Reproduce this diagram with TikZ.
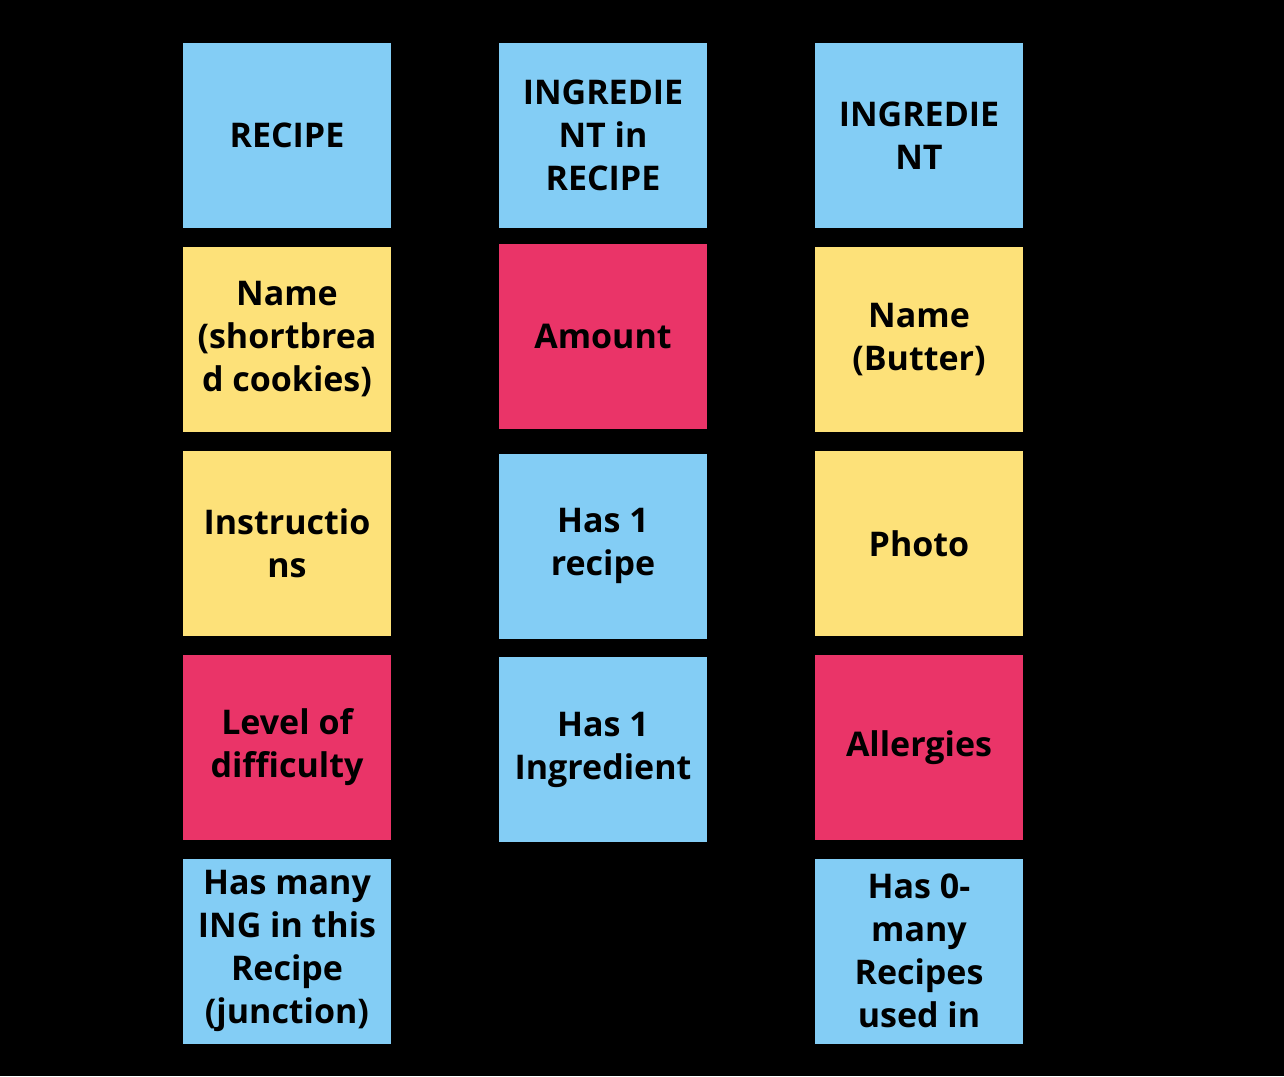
\documentclass[tikz,border=0pt]{standalone}
\usepackage{fontspec}
\setmainfont{Open Sans}
\usepackage{xcolor}
\usetikzlibrary{positioning}
\definecolor{noteblue}{HTML}{83CDF5}
\definecolor{noteyellow}{HTML}{FDE179}
\definecolor{notered}{HTML}{EA3468}
\tikzset{
    note/.style={
        rectangle,
        minimum width=208pt,
        minimum height=185pt,
        inner sep=0pt,
        align=center,
        font=\fontsize{34}{43}\selectfont\bfseries,
        text=black,
    },
    entity/.style={note, fill=noteblue},
    attr/.style={note, fill=noteyellow},
    keyattr/.style={note, fill=notered},
}

\begin{document}
\begin{tikzpicture}[x=1pt,y=1pt,node distance=18.5pt]
          \fill[black] (0,0) rectangle (1284,1076);
          % recipe column
          \node [entity] (recipe) at (287,940.5) {RECIPE};
          \node [attr] (rname) [below=of recipe] {Name\\(shortbrea\\d cookies)};
          \node [attr] (instr) [below=of rname] {Instructio\\ns};
          \node [keyattr] (level) [below=of instr] {Level of\\difficulty};
          \node [entity] (manying) [below=of level] {Has many\\ING in this\\Recipe\\(junction)};

          % junction column
          \node [entity] (inrecipe) at (603,940.5) {INGREDIE\\NT in\\RECIPE};
          \node [keyattr] (amount) [below=16pt of inrecipe] {Amount};
          \node [entity] (onerecipe) [below=24pt of amount] {Has 1\\recipe};
          \node [entity] (oneing) [below=18pt of onerecipe] {Has 1\\Ingredient};

          % ingredient column
          \node [entity] (ingredient) at (919,940.5) {INGREDIE\\NT};
          \node [attr] (iname) [below=of ingredient] {Name\\(Butter)};
          \node [attr] (photo) [below=of iname] {Photo};
          \node [keyattr] (allergy) [below=of photo] {Allergies};
          \node [entity] (manyrec) [below=of allergy] {Has 0-\\many\\Recipes\\used in};
        \end{tikzpicture}
\end{document}
